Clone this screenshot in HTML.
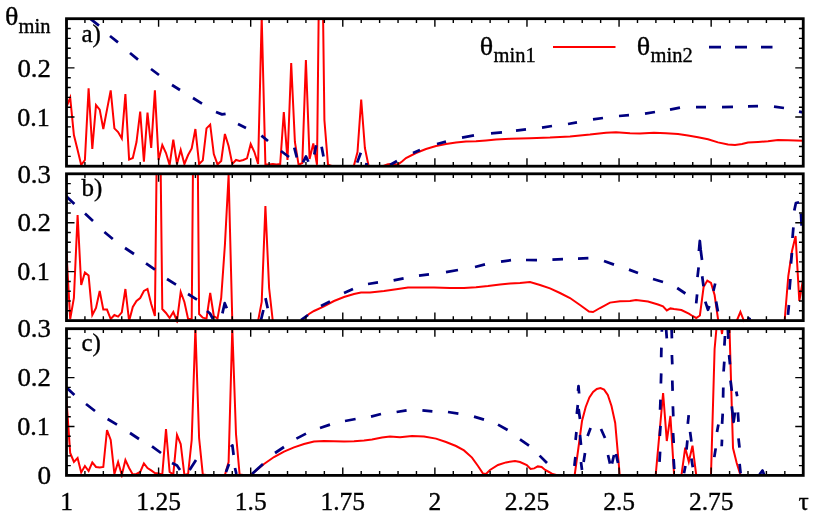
<!DOCTYPE html>
<html><head><meta charset="utf-8"><title>chart</title>
<style>html,body{margin:0;padding:0;background:#fff;}svg{display:block;will-change:transform;}</style>
</head><body>
<svg width="822" height="520" viewBox="0 0 822 520">
<rect width="822" height="520" fill="#fff"/>
<defs>
<clipPath id="cpa"><rect x="66.50" y="18.70" width="736.75" height="150.10"/></clipPath>
<clipPath id="cpb"><rect x="66.50" y="173.80" width="736.75" height="149.40"/></clipPath>
<clipPath id="cpc"><rect x="66.50" y="328.70" width="736.75" height="149.30"/></clipPath>
</defs>
<g clip-path="url(#cpa)">
<path d="M66.5 107.0 L70.2 97.6 L73.9 135.0 L77.6 150.0 L81.2 165.0 L84.9 160.0 L88.6 88.4 L92.3 149.0 L96.0 105.0 L99.7 109.6 L103.3 129.0 L107.0 109.6 L110.7 90.4 L114.4 128.4 L118.1 132.0 L121.8 138.4 L125.4 94.0 L129.1 159.6 L132.8 158.0 L136.5 142.0 L140.2 111.6 L143.9 161.6 L147.5 112.6 L151.2 148.0 L154.9 90.4 L158.6 160.0 L162.3 145.0 L166.0 153.0 L169.6 165.0 L173.3 139.6 L177.0 164.0 L180.7 150.0 L184.4 164.0 L188.1 155.0 L191.7 148.4 L195.4 129.0 L199.1 164.0 L202.8 160.4 L206.5 128.4 L210.2 124.6 L213.8 154.0 L217.5 164.4 L221.2 161.0 L224.9 134.0 L228.6 146.0 L232.3 164.0 L236.0 160.0 L239.6 161.0 L243.3 160.0 L247.0 158.4 L250.7 144.0 L254.4 152.0 L258.1 164.0 L261.7 17.0 L265.4 164.5 L269.1 164.4 L272.8 164.0 L276.5 164.4 L280.2 164.0 L283.8 112.0 L287.5 160.0 L291.2 63.0 L294.9 142.0 L298.6 164.8 L302.3 163.0 L305.9 60.0 L309.6 159.0 L313.3 143.4 L317.0 164.8 L320.7 -170.0 L324.4 120.0 L328.0 164.8 L331.7 166.0 L335.4 166.0 L339.1 166.0 L342.8 166.0 L346.5 166.0 L350.1 166.0 L353.8 166.0 L357.5 152.0 L361.2 99.5 L364.9 148.0 L368.6 166.0 L372.3 166.0 L383.5 166.0 L386.0 165.0 L388.0 164.2 L392.0 164.0 L398.0 164.4 L402.0 161.5 L406.0 158.0 L416.0 153.0 L426.0 149.0 L436.0 146.0 L446.0 144.0 L456.0 142.6 L466.0 141.6 L476.0 141.2 L486.0 140.4 L496.0 139.4 L510.0 138.8 L530.0 138.2 L550.0 137.6 L570.0 136.4 L590.0 134.6 L606.0 132.8 L616.0 132.2 L630.0 133.2 L640.0 133.4 L654.0 132.8 L666.0 133.2 L678.0 134.0 L688.0 135.6 L698.0 137.2 L708.0 139.2 L718.0 142.4 L728.0 144.6 L735.0 145.0 L742.0 144.0 L748.0 142.6 L758.0 142.0 L768.0 141.2 L778.0 140.0 L788.0 140.2 L803.0 140.8" fill="none" stroke="#ff0000" stroke-width="2" stroke-linejoin="miter" stroke-miterlimit="4.3"/>
<path d="M88.0 17.0 L99.0 25.6 M110.0 36.0 L118.0 42.4 M130.0 53.0 L138.0 59.6 M151.0 69.0 L159.0 75.0 M172.0 85.0 L180.0 90.0 M193.0 98.0 L202.0 103.6 M216.0 112.0 L222.0 114.4 L225.6 113.8 M238.0 124.0 L246.0 128.0 M261.4 135.6 L268.0 141.0 M281.0 151.0 L289.0 157.0 M294.3 147.7 L296.8 157.5 M303.0 162.3 L306.0 156.5 L308.4 161.8 M314.3 154.5 L316.2 145.3 M321.6 146.8 L323.5 156.5 M357.2 162.6 L360.8 152.8 M365.0 164.0 L368.0 164.6 M390.0 165.0 L397.0 161.0 M413.0 153.0 L420.0 150.0 M437.0 144.0 L446.0 141.6 M462.0 137.6 L474.0 135.4 M491.0 133.4 L502.0 132.4 M516.0 130.6 L526.0 129.4 M542.0 127.6 L552.0 126.0 M568.0 124.0 L577.0 122.4 M593.0 119.4 L603.0 118.0 M619.0 116.0 L629.0 115.2 M645.0 113.6 L655.0 112.0 M670.0 109.6 L680.0 107.6 M696.0 107.0 L706.0 107.0 M722.0 107.2 L733.0 106.8 M748.0 106.4 L758.0 106.2 M774.0 106.6 L784.0 108.0 M799.0 111.6 L803.0 112.4" fill="none" stroke="#000080" stroke-width="2.75" stroke-linejoin="round"/>
</g>
<rect x="66.50" y="18.70" width="736.75" height="147.50" fill="none" stroke="#000" stroke-width="2.8"/>
<path d="M66.50 166.20 v-8.00 M66.50 18.70 v8.00 M84.92 166.20 v-4.30 M84.92 18.70 v4.30 M103.34 166.20 v-4.30 M103.34 18.70 v4.30 M121.76 166.20 v-4.30 M121.76 18.70 v4.30 M140.18 166.20 v-4.30 M140.18 18.70 v4.30 M158.59 166.20 v-8.00 M158.59 18.70 v8.00 M177.01 166.20 v-4.30 M177.01 18.70 v4.30 M195.43 166.20 v-4.30 M195.43 18.70 v4.30 M213.85 166.20 v-4.30 M213.85 18.70 v4.30 M232.27 166.20 v-4.30 M232.27 18.70 v4.30 M250.69 166.20 v-8.00 M250.69 18.70 v8.00 M269.11 166.20 v-4.30 M269.11 18.70 v4.30 M287.52 166.20 v-4.30 M287.52 18.70 v4.30 M305.94 166.20 v-4.30 M305.94 18.70 v4.30 M324.36 166.20 v-4.30 M324.36 18.70 v4.30 M342.78 166.20 v-8.00 M342.78 18.70 v8.00 M361.20 166.20 v-4.30 M361.20 18.70 v4.30 M379.62 166.20 v-4.30 M379.62 18.70 v4.30 M398.04 166.20 v-4.30 M398.04 18.70 v4.30 M416.46 166.20 v-4.30 M416.46 18.70 v4.30 M434.88 166.20 v-8.00 M434.88 18.70 v8.00 M453.29 166.20 v-4.30 M453.29 18.70 v4.30 M471.71 166.20 v-4.30 M471.71 18.70 v4.30 M490.13 166.20 v-4.30 M490.13 18.70 v4.30 M508.55 166.20 v-4.30 M508.55 18.70 v4.30 M526.97 166.20 v-8.00 M526.97 18.70 v8.00 M545.39 166.20 v-4.30 M545.39 18.70 v4.30 M563.81 166.20 v-4.30 M563.81 18.70 v4.30 M582.23 166.20 v-4.30 M582.23 18.70 v4.30 M600.64 166.20 v-4.30 M600.64 18.70 v4.30 M619.06 166.20 v-8.00 M619.06 18.70 v8.00 M637.48 166.20 v-4.30 M637.48 18.70 v4.30 M655.90 166.20 v-4.30 M655.90 18.70 v4.30 M674.32 166.20 v-4.30 M674.32 18.70 v4.30 M692.74 166.20 v-4.30 M692.74 18.70 v4.30 M711.16 166.20 v-8.00 M711.16 18.70 v8.00 M729.58 166.20 v-4.30 M729.58 18.70 v4.30 M747.99 166.20 v-4.30 M747.99 18.70 v4.30 M766.41 166.20 v-4.30 M766.41 18.70 v4.30 M784.83 166.20 v-4.30 M784.83 18.70 v4.30 M803.25 166.20 v-8.00 M803.25 18.70 v8.00 M66.50 166.20 h8.00 M803.25 166.20 h-8.00 M66.50 156.37 h4.30 M803.25 156.37 h-4.30 M66.50 146.53 h4.30 M803.25 146.53 h-4.30 M66.50 136.70 h4.30 M803.25 136.70 h-4.30 M66.50 126.87 h4.30 M803.25 126.87 h-4.30 M66.50 117.03 h8.00 M803.25 117.03 h-8.00 M66.50 107.20 h4.30 M803.25 107.20 h-4.30 M66.50 97.37 h4.30 M803.25 97.37 h-4.30 M66.50 87.53 h4.30 M803.25 87.53 h-4.30 M66.50 77.70 h4.30 M803.25 77.70 h-4.30 M66.50 67.87 h8.00 M803.25 67.87 h-8.00 M66.50 58.03 h4.30 M803.25 58.03 h-4.30 M66.50 48.20 h4.30 M803.25 48.20 h-4.30 M66.50 38.37 h4.30 M803.25 38.37 h-4.30 M66.50 28.53 h4.30 M803.25 28.53 h-4.30 M66.50 18.70 h8.00 M803.25 18.70 h-8.00" stroke="#000" stroke-width="1.4" fill="none"/>
<g clip-path="url(#cpb)">
<path d="M66.5 253.0 L70.2 319.0 L73.9 298.0 L77.6 215.0 L81.2 285.0 L84.9 272.4 L88.6 275.6 L92.3 315.0 L96.0 308.0 L99.7 291.0 L103.3 309.6 L107.0 309.6 L110.7 319.0 L114.4 315.0 L118.1 316.6 L121.8 312.4 L125.4 289.0 L129.1 321.0 L132.8 307.0 L136.5 301.0 L140.2 298.0 L143.9 291.0 L147.5 289.0 L151.2 304.0 L154.9 316.0 L158.6 -10.0 L162.3 309.0 L166.0 313.0 L169.6 318.0 L173.3 312.0 L177.0 321.0 L180.7 292.0 L184.4 302.0 L188.1 319.0 L191.7 318.8 L195.4 -120.0 L199.1 314.0 L202.8 317.6 L206.5 318.6 L210.2 293.0 L213.8 316.0 L217.5 318.6 L221.2 298.0 L224.9 245.0 L228.6 175.0 L232.3 321.0 L236.0 321.0 L239.6 321.0 L243.3 321.0 L247.0 321.0 L250.7 321.0 L254.4 321.0 L258.1 321.0 L261.7 302.0 L265.4 206.0 L269.1 288.0 L272.8 321.0 L276.5 321.0 L280.2 321.0 L283.8 321.0 L287.5 321.0 L291.2 321.0 L294.9 321.0 L298.6 321.0 L301.0 321.0 L309.0 314.0 L314.0 311.0 L324.0 306.4 L334.0 301.0 L344.0 297.0 L354.0 294.0 L361.0 292.6 L370.0 292.4 L384.0 291.0 L398.0 289.0 L408.0 287.6 L420.0 287.4 L434.0 287.6 L450.0 288.0 L464.0 288.0 L476.0 287.2 L488.0 286.0 L500.0 284.4 L510.0 283.6 L520.0 283.0 L530.0 282.0 L540.0 285.0 L550.0 288.4 L560.0 293.0 L570.0 298.0 L580.0 305.0 L589.0 311.6 L593.0 312.0 L600.0 308.0 L610.0 302.6 L620.0 301.2 L630.0 301.0 L636.0 300.0 L648.0 301.6 L658.0 304.5 L663.0 306.4 L666.8 310.4 L670.4 308.4 L674.0 309.0 L681.4 310.0 L688.8 313.6 L692.5 316.0 L696.2 318.0 L699.9 315.5 L703.6 287.0 L707.3 280.6 L711.0 283.0 L714.6 295.0 L718.3 321.0 L736.7 321.0 L740.4 312.0 L744.0 321.0 L748.0 319.6 L751.7 321.0 L784.6 321.0 L788.3 276.0 L792.0 251.0 L795.6 236.0 L799.3 301.0 L803.0 280.0" fill="none" stroke="#ff0000" stroke-width="2" stroke-linejoin="miter" stroke-miterlimit="4.3"/>
<path d="M66.5 196.5 L74.4 204.0 M85.0 213.6 L93.0 221.0 M104.4 232.0 L112.8 239.0 M125.0 248.0 L134.0 254.0 M146.0 263.4 L155.0 269.6 M167.0 279.0 L176.0 284.6 M188.0 294.0 L197.0 299.6 M207.0 311.0 L210.0 313.5 L213.0 319.0 M222.4 313.4 L224.7 303.2 L226.8 308.3 M261.0 320.0 L263.4 310.0 M265.5 298.1 L267.7 308.3 M301.0 320.0 L308.0 315.0 M321.0 306.0 L330.0 301.6 M344.0 293.0 L353.0 289.0 M368.0 284.0 L378.0 282.4 M393.6 280.4 L403.6 278.4 M419.0 275.6 L429.0 274.4 M446.0 272.2 L458.0 270.0 M475.0 267.0 L485.0 264.4 M501.0 261.6 L511.0 260.2 M526.0 260.0 L537.0 260.2 M552.4 259.6 L563.0 259.2 M578.0 258.6 L588.4 258.2 M604.0 261.0 L614.0 264.6 M629.0 269.6 L638.0 273.0 M653.0 279.0 L663.0 282.0 M677.2 288.0 L685.4 293.5 M696.2 303.4 L697.1 294.4 M697.5 277.2 L698.6 267.3 M698.9 251.0 L699.8 241.0 L700.7 250.0 L702.0 260.0 M702.2 276.3 L703.5 286.3 M705.3 301.6 L708.0 309.8 L709.4 306.0 M713.4 290.8 L715.2 283.5 M716.1 301.6 L717.9 311.6 M747.5 317.8 L750.5 319.5 M788.0 314.8 L788.9 305.0 M789.5 289.6 L790.4 279.0 M791.0 263.7 L791.9 253.0 M792.5 238.0 L793.4 227.3 M794.3 210.5 L795.9 203.0 L799.0 202.3 M801.0 213.6 L801.6 225.8" fill="none" stroke="#000080" stroke-width="2.75" stroke-linejoin="round"/>
</g>
<rect x="66.50" y="173.80" width="736.75" height="146.80" fill="none" stroke="#000" stroke-width="2.8"/>
<path d="M66.50 320.60 v-8.00 M66.50 173.80 v8.00 M84.92 320.60 v-4.30 M84.92 173.80 v4.30 M103.34 320.60 v-4.30 M103.34 173.80 v4.30 M121.76 320.60 v-4.30 M121.76 173.80 v4.30 M140.18 320.60 v-4.30 M140.18 173.80 v4.30 M158.59 320.60 v-8.00 M158.59 173.80 v8.00 M177.01 320.60 v-4.30 M177.01 173.80 v4.30 M195.43 320.60 v-4.30 M195.43 173.80 v4.30 M213.85 320.60 v-4.30 M213.85 173.80 v4.30 M232.27 320.60 v-4.30 M232.27 173.80 v4.30 M250.69 320.60 v-8.00 M250.69 173.80 v8.00 M269.11 320.60 v-4.30 M269.11 173.80 v4.30 M287.52 320.60 v-4.30 M287.52 173.80 v4.30 M305.94 320.60 v-4.30 M305.94 173.80 v4.30 M324.36 320.60 v-4.30 M324.36 173.80 v4.30 M342.78 320.60 v-8.00 M342.78 173.80 v8.00 M361.20 320.60 v-4.30 M361.20 173.80 v4.30 M379.62 320.60 v-4.30 M379.62 173.80 v4.30 M398.04 320.60 v-4.30 M398.04 173.80 v4.30 M416.46 320.60 v-4.30 M416.46 173.80 v4.30 M434.88 320.60 v-8.00 M434.88 173.80 v8.00 M453.29 320.60 v-4.30 M453.29 173.80 v4.30 M471.71 320.60 v-4.30 M471.71 173.80 v4.30 M490.13 320.60 v-4.30 M490.13 173.80 v4.30 M508.55 320.60 v-4.30 M508.55 173.80 v4.30 M526.97 320.60 v-8.00 M526.97 173.80 v8.00 M545.39 320.60 v-4.30 M545.39 173.80 v4.30 M563.81 320.60 v-4.30 M563.81 173.80 v4.30 M582.23 320.60 v-4.30 M582.23 173.80 v4.30 M600.64 320.60 v-4.30 M600.64 173.80 v4.30 M619.06 320.60 v-8.00 M619.06 173.80 v8.00 M637.48 320.60 v-4.30 M637.48 173.80 v4.30 M655.90 320.60 v-4.30 M655.90 173.80 v4.30 M674.32 320.60 v-4.30 M674.32 173.80 v4.30 M692.74 320.60 v-4.30 M692.74 173.80 v4.30 M711.16 320.60 v-8.00 M711.16 173.80 v8.00 M729.58 320.60 v-4.30 M729.58 173.80 v4.30 M747.99 320.60 v-4.30 M747.99 173.80 v4.30 M766.41 320.60 v-4.30 M766.41 173.80 v4.30 M784.83 320.60 v-4.30 M784.83 173.80 v4.30 M803.25 320.60 v-8.00 M803.25 173.80 v8.00 M66.50 320.60 h8.00 M803.25 320.60 h-8.00 M66.50 310.81 h4.30 M803.25 310.81 h-4.30 M66.50 301.03 h4.30 M803.25 301.03 h-4.30 M66.50 291.24 h4.30 M803.25 291.24 h-4.30 M66.50 281.45 h4.30 M803.25 281.45 h-4.30 M66.50 271.67 h8.00 M803.25 271.67 h-8.00 M66.50 261.88 h4.30 M803.25 261.88 h-4.30 M66.50 252.09 h4.30 M803.25 252.09 h-4.30 M66.50 242.31 h4.30 M803.25 242.31 h-4.30 M66.50 232.52 h4.30 M803.25 232.52 h-4.30 M66.50 222.73 h8.00 M803.25 222.73 h-8.00 M66.50 212.95 h4.30 M803.25 212.95 h-4.30 M66.50 203.16 h4.30 M803.25 203.16 h-4.30 M66.50 193.37 h4.30 M803.25 193.37 h-4.30 M66.50 183.59 h4.30 M803.25 183.59 h-4.30 M66.50 173.80 h8.00 M803.25 173.80 h-8.00" stroke="#000" stroke-width="1.4" fill="none"/>
<g clip-path="url(#cpc)">
<path d="M66.5 400.0 L70.2 453.0 L73.9 462.0 L77.6 458.0 L81.2 472.4 L84.9 466.0 L88.6 471.0 L92.3 462.4 L96.0 467.0 L99.7 467.6 L103.3 467.0 L107.0 430.0 L110.7 440.0 L114.4 474.0 L118.1 462.0 L121.8 475.0 L125.4 460.0 L129.1 468.0 L132.8 474.4 L136.5 474.0 L140.2 472.0 L143.9 463.4 L147.5 468.0 L151.2 470.4 L154.9 473.0 L158.6 473.6 L162.3 474.4 L166.0 429.0 L169.6 472.0 L173.3 474.4 L177.0 435.0 L180.7 444.0 L184.4 475.0 L188.1 474.0 L191.7 440.0 L195.4 328.0 L199.1 438.0 L202.8 474.4 L206.5 475.0 L210.2 475.0 L213.8 475.0 L217.5 475.0 L221.2 475.0 L224.9 475.0 L228.6 462.0 L232.3 328.0 L236.0 434.0 L239.6 474.4 L243.3 475.0 L247.0 475.0 L250.6 475.0 L264.0 464.0 L274.0 457.0 L284.0 451.6 L294.0 447.4 L304.0 444.0 L314.0 441.6 L324.0 441.0 L334.0 441.2 L344.0 441.4 L354.0 441.2 L364.0 440.6 L372.0 439.6 L382.0 437.6 L390.0 436.6 L400.0 437.2 L412.0 436.0 L424.0 436.4 L436.0 438.6 L446.0 442.0 L456.0 446.0 L464.0 450.4 L472.0 457.6 L478.0 466.0 L483.0 473.6 L486.0 474.0 L490.0 470.0 L498.0 465.0 L506.0 462.4 L515.0 461.0 L520.0 462.0 L526.8 465.0 L530.6 469.0 L534.2 468.4 L537.8 466.4 L541.6 467.0 L545.2 470.0 L549.0 472.0 L552.6 474.0 L556.3 475.0 L574.7 475.0 L578.4 448.0 L582.0 421.0 L585.7 407.0 L589.4 397.5 L593.1 392.0 L596.8 389.0 L600.5 388.0 L604.1 389.6 L607.8 395.0 L611.5 406.0 L615.2 423.0 L618.6 462.0 L619.7 475.0 L622.6 475.0 L655.7 475.0 L659.4 434.0 L663.1 393.0 L666.8 441.0 L670.4 416.0 L674.1 475.0 L677.8 475.0 L681.5 475.0 L685.2 447.7 L688.8 461.8 L692.5 445.7 L696.2 475.0 L699.9 475.0 L711.0 475.0 L714.6 349.0 L718.3 308.0 L722.0 334.0 L725.6 305.0 L729.3 322.0 L733.0 448.0 L736.7 463.0 L740.4 475.0 L803.0 475.0" fill="none" stroke="#ff0000" stroke-width="2" stroke-linejoin="miter" stroke-miterlimit="4.3"/>
<path d="M66.5 387.5 L74.4 395.0 M86.0 404.0 L95.0 411.0 M107.6 419.0 L117.0 424.6 M130.0 433.0 L139.0 439.0 M152.0 446.4 L161.0 453.0 M172.0 463.0 L177.0 465.5 L180.0 470.0 M189.6 470.0 L196.0 460.0 M226.0 472.0 L229.0 464.0 M231.0 447.0 L232.4 445.4 L233.6 455.0 M235.0 468.0 L236.4 474.0 M252.0 474.0 L263.0 464.0 M275.0 453.0 L284.0 447.0 M296.4 438.6 L306.0 433.6 M320.0 428.0 L330.0 424.6 M345.0 421.0 L355.6 419.0 M371.0 416.6 L381.0 414.0 M396.6 412.0 L406.6 410.4 M422.4 410.4 L432.4 411.4 M448.0 412.0 L458.4 413.6 M474.0 416.6 L484.0 419.6 M498.0 424.6 L507.6 430.0 M520.0 439.3 L529.0 445.6 M539.6 455.6 L547.0 463.0 M574.4 466.0 L575.4 457.0 M575.6 440.0 L576.4 432.0 M576.8 414.0 L577.8 405.0 M578.0 391.0 L578.5 386.2 L579.1 393.5 M578.6 409.0 L580.0 419.0 M580.0 435.0 L581.0 445.0 M581.0 462.0 L582.0 470.0 M583.6 462.0 L585.0 453.0 M587.6 436.0 L590.6 428.0 M601.0 429.0 L605.0 438.0 M608.0 455.0 L610.0 463.6 M612.0 463.6 L614.0 455.0 M616.0 454.0 L618.0 463.0 M659.5 461.8 L660.1 451.7 M659.8 436.0 L660.5 425.9 M660.1 409.7 L660.5 399.6 M660.9 383.5 L661.2 373.4 M661.2 357.3 L661.4 347.6 M661.8 331.7 L662.0 326.0 M665.9 326.0 L666.8 338.4 M671.5 326.0 L671.9 338.4 M671.9 355.0 L672.3 364.4 M672.3 380.5 L672.6 390.9 M672.9 406.3 L673.3 416.4 M673.1 433.0 L673.7 443.0 M673.6 459.0 L674.3 469.0 M684.0 473.3 L685.4 465.9 M686.5 449.7 L687.4 440.3 M687.8 423.8 L688.7 415.1 M690.1 431.9 L691.4 441.6 M691.4 458.5 L692.8 467.2 M714.3 457.1 L715.7 448.4 M717.0 431.9 L718.4 424.5 M721.7 446.3 L722.0 439.6 M722.1 423.8 L722.7 413.7 M723.1 397.6 L723.3 387.5 M723.6 371.5 L724.3 361.7 M724.4 345.6 L725.0 336.0 M727.6 326.0 L728.4 338.8 M729.1 355.0 L730.0 364.4 M730.5 380.5 L731.8 390.9 M731.8 406.3 L733.6 421.8 L735.0 412.4 M736.3 391.5 L737.2 396.2 M737.9 412.4 L738.5 421.8 M738.5 438.3 L739.5 447.7 M739.6 463.8 L740.6 473.3 M759.5 474.5 L762.5 470.5 L764.0 474.5" fill="none" stroke="#000080" stroke-width="2.75" stroke-linejoin="round"/>
</g>
<rect x="66.50" y="328.70" width="736.75" height="146.70" fill="none" stroke="#000" stroke-width="2.8"/>
<path d="M66.50 475.40 v-8.00 M66.50 328.70 v8.00 M84.92 475.40 v-4.30 M84.92 328.70 v4.30 M103.34 475.40 v-4.30 M103.34 328.70 v4.30 M121.76 475.40 v-4.30 M121.76 328.70 v4.30 M140.18 475.40 v-4.30 M140.18 328.70 v4.30 M158.59 475.40 v-8.00 M158.59 328.70 v8.00 M177.01 475.40 v-4.30 M177.01 328.70 v4.30 M195.43 475.40 v-4.30 M195.43 328.70 v4.30 M213.85 475.40 v-4.30 M213.85 328.70 v4.30 M232.27 475.40 v-4.30 M232.27 328.70 v4.30 M250.69 475.40 v-8.00 M250.69 328.70 v8.00 M269.11 475.40 v-4.30 M269.11 328.70 v4.30 M287.52 475.40 v-4.30 M287.52 328.70 v4.30 M305.94 475.40 v-4.30 M305.94 328.70 v4.30 M324.36 475.40 v-4.30 M324.36 328.70 v4.30 M342.78 475.40 v-8.00 M342.78 328.70 v8.00 M361.20 475.40 v-4.30 M361.20 328.70 v4.30 M379.62 475.40 v-4.30 M379.62 328.70 v4.30 M398.04 475.40 v-4.30 M398.04 328.70 v4.30 M416.46 475.40 v-4.30 M416.46 328.70 v4.30 M434.88 475.40 v-8.00 M434.88 328.70 v8.00 M453.29 475.40 v-4.30 M453.29 328.70 v4.30 M471.71 475.40 v-4.30 M471.71 328.70 v4.30 M490.13 475.40 v-4.30 M490.13 328.70 v4.30 M508.55 475.40 v-4.30 M508.55 328.70 v4.30 M526.97 475.40 v-8.00 M526.97 328.70 v8.00 M545.39 475.40 v-4.30 M545.39 328.70 v4.30 M563.81 475.40 v-4.30 M563.81 328.70 v4.30 M582.23 475.40 v-4.30 M582.23 328.70 v4.30 M600.64 475.40 v-4.30 M600.64 328.70 v4.30 M619.06 475.40 v-8.00 M619.06 328.70 v8.00 M637.48 475.40 v-4.30 M637.48 328.70 v4.30 M655.90 475.40 v-4.30 M655.90 328.70 v4.30 M674.32 475.40 v-4.30 M674.32 328.70 v4.30 M692.74 475.40 v-4.30 M692.74 328.70 v4.30 M711.16 475.40 v-8.00 M711.16 328.70 v8.00 M729.58 475.40 v-4.30 M729.58 328.70 v4.30 M747.99 475.40 v-4.30 M747.99 328.70 v4.30 M766.41 475.40 v-4.30 M766.41 328.70 v4.30 M784.83 475.40 v-4.30 M784.83 328.70 v4.30 M803.25 475.40 v-8.00 M803.25 328.70 v8.00 M66.50 475.40 h8.00 M803.25 475.40 h-8.00 M66.50 465.62 h4.30 M803.25 465.62 h-4.30 M66.50 455.84 h4.30 M803.25 455.84 h-4.30 M66.50 446.06 h4.30 M803.25 446.06 h-4.30 M66.50 436.28 h4.30 M803.25 436.28 h-4.30 M66.50 426.50 h8.00 M803.25 426.50 h-8.00 M66.50 416.72 h4.30 M803.25 416.72 h-4.30 M66.50 406.94 h4.30 M803.25 406.94 h-4.30 M66.50 397.16 h4.30 M803.25 397.16 h-4.30 M66.50 387.38 h4.30 M803.25 387.38 h-4.30 M66.50 377.60 h8.00 M803.25 377.60 h-8.00 M66.50 367.82 h4.30 M803.25 367.82 h-4.30 M66.50 358.04 h4.30 M803.25 358.04 h-4.30 M66.50 348.26 h4.30 M803.25 348.26 h-4.30 M66.50 338.48 h4.30 M803.25 338.48 h-4.30 M66.50 328.70 h8.00 M803.25 328.70 h-8.00" stroke="#000" stroke-width="1.4" fill="none"/>
<path d="M553 47 H615.5" stroke="#ff0000" stroke-width="2"/>
<path d="M709 47 h12 M735 47 h12 M761 47 h11.5" stroke="#000080" stroke-width="2.75"/>
<g font-family="'Liberation Serif', serif" fill="#000" stroke="#000" stroke-width="0.35">
<text transform="translate(4.9,24.9) scale(1.1,1)" font-size="25.5">θ</text><text x="18.5" y="32.8" font-size="20.5">min</text>
<text transform="translate(479.8,54.6) scale(1.1,1)" font-size="25.5">θ</text><text x="493.5" y="62.4" font-size="20.5">min1</text>
<text transform="translate(636.8,54.6) scale(1.1,1)" font-size="25.5">θ</text><text x="650.6" y="62.4" font-size="20.5">min2</text>
<text x="81.5" y="41.5" font-size="25.0" text-anchor="start">a)</text>
<text x="81.5" y="195.9" font-size="25.0" text-anchor="start">b)</text>
<text x="81.5" y="350.9" font-size="25.0" text-anchor="start">c)</text>
<text x="49.8" y="125.7" font-size="25.5" text-anchor="end" textLength="32.6" lengthAdjust="spacingAndGlyphs">0.1</text>
<text x="51.0" y="76.6" font-size="25.5" text-anchor="end" textLength="33.6" lengthAdjust="spacingAndGlyphs">0.2</text>
<text x="49.8" y="280.4" font-size="25.5" text-anchor="end" textLength="32.6" lengthAdjust="spacingAndGlyphs">0.1</text>
<text x="51.0" y="231.4" font-size="25.5" text-anchor="end" textLength="33.6" lengthAdjust="spacingAndGlyphs">0.2</text>
<text x="51.0" y="182.5" font-size="25.5" text-anchor="end" textLength="33.6" lengthAdjust="spacingAndGlyphs">0.3</text>
<text x="49.8" y="435.2" font-size="25.5" text-anchor="end" textLength="32.6" lengthAdjust="spacingAndGlyphs">0.1</text>
<text x="51.0" y="386.3" font-size="25.5" text-anchor="end" textLength="33.6" lengthAdjust="spacingAndGlyphs">0.2</text>
<text x="51.0" y="337.4" font-size="25.5" text-anchor="end" textLength="33.6" lengthAdjust="spacingAndGlyphs">0.3</text>
<text x="51.0" y="484.2" font-size="25.5" text-anchor="end" textLength="13.6" lengthAdjust="spacingAndGlyphs">0</text>
<text x="66.5" y="510.0" font-size="25.5" text-anchor="middle">1</text>
<text x="158.6" y="510.0" font-size="25.5" text-anchor="middle">1.25</text>
<text x="250.7" y="510.0" font-size="25.5" text-anchor="middle">1.5</text>
<text x="342.8" y="510.0" font-size="25.5" text-anchor="middle">1.75</text>
<text x="434.9" y="510.0" font-size="25.5" text-anchor="middle">2</text>
<text x="527.0" y="510.0" font-size="25.5" text-anchor="middle">2.25</text>
<text x="619.1" y="510.0" font-size="25.5" text-anchor="middle">2.5</text>
<text x="711.2" y="510.0" font-size="25.5" text-anchor="middle">2.75</text>
<text x="803.5" y="510.0" font-size="25.5" text-anchor="middle">τ</text>
</g>
</svg>
</body></html>
